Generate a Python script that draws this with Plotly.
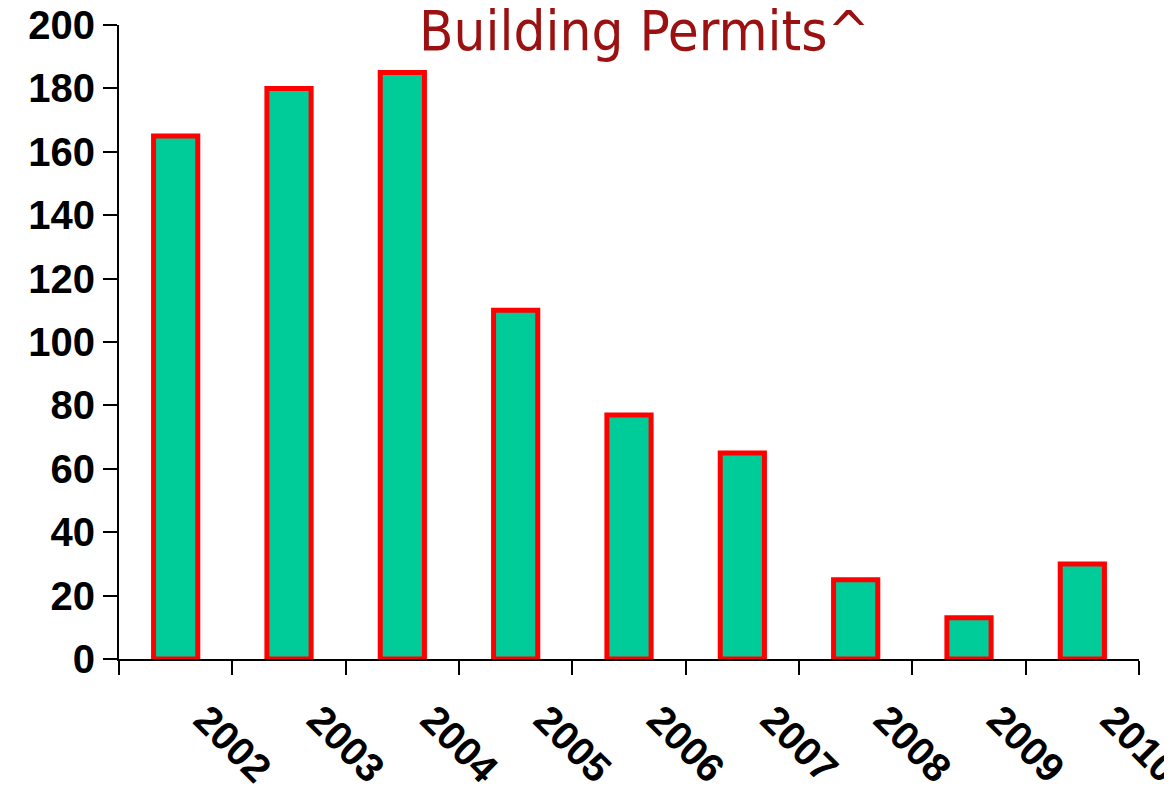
import plotly.graph_objects as go

years = ["2002", "2003", "2004", "2005", "2006", "2007", "2008", "2009", "2010"]
permits = [165, 180, 185, 110, 77, 65, 25, 13, 30]
title_text = "Building Permits^"
y_ticks = [0, 20, 40, 60, 80, 100, 120, 140, 160, 180, 200]

tick_font = dict(family="Liberation Sans, Arial, sans-serif", size=40, color="black", weight="bold")

fig = go.Figure(go.Bar(
    x=years, y=permits,
    width=0.39,
    marker=dict(color="#00CC99", line=dict(color="#FF0000", width=5)),
))

fig.update_layout(
    width=1164, height=778,
    margin=dict(l=111, r=33, t=17, b=127, autoexpand=False),
    paper_bgcolor="white", plot_bgcolor="white",
    showlegend=False,
    annotations=[dict(
        text=title_text, x=0.515, xref="paper", y=1.0, yref="paper",
        showarrow=False, xanchor="center", yanchor="bottom", yshift=-40,
        font=dict(family="DejaVu Sans Condensed, Liberation Sans Narrow, DejaVu Sans, sans-serif",
                  size=56, color="#9B1111"),
    )],
)

fig.update_xaxes(
    type="category", tickson="boundaries", ticks="outside", ticklen=14, tickwidth=2, tickcolor="black",
    showline=True, linecolor="black", linewidth=2, showgrid=False,
    tickangle=45, tickfont=tick_font, ticklabelshift=30, ticklabelstandoff=19,
    ticklabeloverflow="allow",
)
fig.update_yaxes(
    range=[0, 200], tickvals=y_ticks, ticks="outside", ticklen=14, tickwidth=2, tickcolor="black",
    showline=True, linecolor="black", linewidth=2, showgrid=False, zeroline=False,
    tickfont=tick_font, ticklabeloverflow="allow",
)

fig.write_html("out.html")
